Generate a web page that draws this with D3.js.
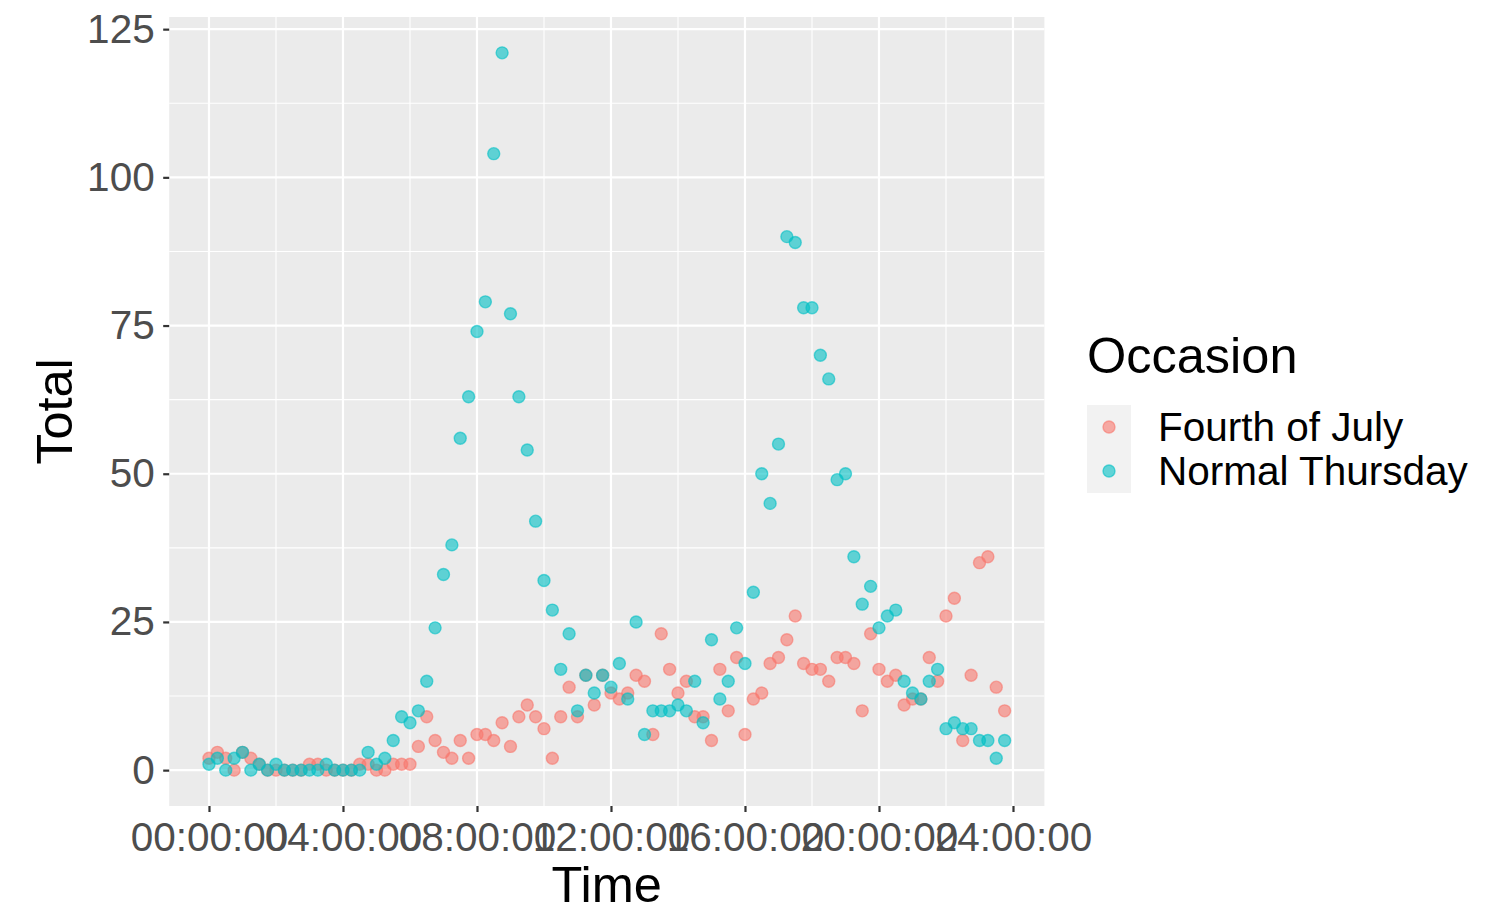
<!DOCTYPE html>
<html>
<head>
<meta charset="utf-8">
<script src="https://cdn.jsdelivr.net/npm/d3@7"></script>
<style>
  html, body { margin: 0; padding: 0; background: #ffffff; }
  svg { display: block; }
  text { font-family: "Liberation Sans", Arial, Helvetica, sans-serif; }
</style>
</head>
<body>
<script>
// ---- Data (15-minute intervals, hours since midnight) ----
const seriesNames = ["Fourth of July", "Normal Thursday"];
const seriesColors = ["#F8766D", "#00BFC4"];
const fourthOfJuly = [
  2, 3, 2, 0, 3, 2, 1, 0, 0, 0, 0, 0, 1, 1, 0, 0,
  0, 0, 1, 1, 0, 0, 1, 1, 1, 4, 9, 5, 3, 2, 5, 2,
  6, 6, 5, 8, 4, 9, 11, 9, 7, 2, 9, 14, 9, 16, 11, 16,
  13, 12, 13, 16, 15, 6, 23, 17, 13, 15, 9, 9, 5, 17, 10, 19,
  6, 12, 13, 18, 19, 22, 26, 18, 17, 17, 15, 19, 19, 18, 10, 23,
  17, 15, 16, 11, 12, 12, 19, 15, 26, 29, 5, 16, 35, 36, 14, 10
];
const normalThursday = [
  1, 2, 0, 2, 3, 0, 1, 0, 1, 0, 0, 0, 0, 0, 1, 0,
  0, 0, 0, 3, 1, 2, 5, 9, 8, 10, 15, 24, 33, 38, 56, 63,
  74, 79, 104, 121, 77, 63, 54, 42, 32, 27, 17, 23, 10, 16, 13, 16,
  14, 18, 12, 25, 6, 10, 10, 10, 11, 10, 15, 8, 22, 12, 15, 24,
  18, 30, 50, 45, 55, 90, 89, 78, 78, 70, 66, 49, 50, 36, 28, 31,
  24, 26, 27, 15, 13, 12, 15, 17, 7, 8, 7, 7, 5, 5, 2, 5
];
const xTickHours = [0, 4, 8, 12, 16, 20, 24];
const xTickLabels = ["00:00:00", "04:00:00", "08:00:00", "12:00:00", "16:00:00", "20:00:00", "24:00:00"];
const yTicks = [0, 25, 50, 75, 100, 125];
const xMinorHours = [2, 6, 10, 14, 18, 22];
const yMinor = [12.5, 37.5, 62.5, 87.5, 112.5];

const seriesValues = [fourthOfJuly, normalThursday];
const points = [];
seriesValues.forEach((vals, s) => {
  vals.forEach((v, i) => points.push({ s, t: i * 0.25, v }));
});

// ---- Layout ----
const W = 1512, H = 911;
const panel = { left: 169.2, right: 1044.4, top: 17, bottom: 806 };
const tickFont = 40.5, titleFont = 50.5;

const svg = d3.select("body").append("svg").attr("width", W).attr("height", H);

const tExt = d3.extent(points, d => d.t);
const tPad = (tExt[1] - tExt[0]) * 0.05;
const vExt = [0, d3.max(points, d => d.v)];
const vPad = (vExt[1] - vExt[0]) * 0.05;

const x = d3.scaleLinear().domain([tExt[0] - tPad, tExt[1] + tPad]).range([panel.left, panel.right]);
const y = d3.scaleLinear().domain([vExt[0] - vPad, vExt[1] + vPad]).range([panel.bottom, panel.top]);

// panel background
svg.append("rect")
  .attr("x", panel.left).attr("y", panel.top)
  .attr("width", panel.right - panel.left).attr("height", panel.bottom - panel.top)
  .attr("fill", "#EBEBEB");

const grid = svg.append("g");
// minor grid
grid.selectAll("line.ymin").data(yMinor).enter().append("line")
  .attr("x1", panel.left).attr("x2", panel.right)
  .attr("y1", d => y(d)).attr("y2", d => y(d))
  .attr("stroke", "#fff").attr("stroke-width", 1.1);
grid.selectAll("line.xmin").data(xMinorHours).enter().append("line")
  .attr("y1", panel.top).attr("y2", panel.bottom)
  .attr("x1", d => x(d)).attr("x2", d => x(d))
  .attr("stroke", "#fff").attr("stroke-width", 1.1);
// major grid
grid.selectAll("line.ymaj").data(yTicks).enter().append("line")
  .attr("x1", panel.left).attr("x2", panel.right)
  .attr("y1", d => y(d)).attr("y2", d => y(d))
  .attr("stroke", "#fff").attr("stroke-width", 2.2);
grid.selectAll("line.xmaj").data(xTickHours).enter().append("line")
  .attr("y1", panel.top).attr("y2", panel.bottom)
  .attr("x1", d => x(d)).attr("x2", d => x(d))
  .attr("stroke", "#fff").attr("stroke-width", 2.2);

// points
svg.append("g").selectAll("circle").data(points).enter().append("circle")
  .attr("cx", d => x(d.t)).attr("cy", d => y(d.v)).attr("r", 6)
  .attr("fill", d => seriesColors[d.s]).attr("fill-opacity", 0.6)
  .attr("stroke", d => seriesColors[d.s]).attr("stroke-opacity", 0.6)
  .attr("stroke-width", 1.4);

// axes
const xAxis = d3.axisBottom(x).tickValues(xTickHours)
  .tickFormat((d, i) => xTickLabels[i]).tickSize(6).tickPadding(10);
const gx = svg.append("g").attr("transform", `translate(0,${panel.bottom})`).call(xAxis);
gx.select(".domain").remove();
gx.selectAll(".tick line").attr("stroke", "#333333").attr("stroke-width", 2.2);
gx.selectAll(".tick text").attr("fill", "#4D4D4D").attr("font-size", tickFont)
  .attr("font-family", "Liberation Sans, Arial, sans-serif");

const yAxis = d3.axisLeft(y).tickValues(yTicks).tickSize(6).tickPadding(8.5);
const gy = svg.append("g").attr("transform", `translate(${panel.left},0)`).call(yAxis);
gy.select(".domain").remove();
gy.selectAll(".tick line").attr("stroke", "#333333").attr("stroke-width", 2.2);
gy.selectAll(".tick text").attr("fill", "#4D4D4D").attr("font-size", tickFont)
  .attr("font-family", "Liberation Sans, Arial, sans-serif");

// axis titles
svg.append("text").attr("x", (panel.left + panel.right) / 2).attr("y", 902)
  .attr("text-anchor", "middle").attr("font-size", titleFont).attr("fill", "#000").text("Time");
svg.append("text").attr("transform", `translate(72,${(panel.top + panel.bottom) / 2}) rotate(-90)`)
  .attr("text-anchor", "middle").attr("font-size", titleFont).attr("fill", "#000").text("Total");

// legend
const lg = svg.append("g");
lg.append("text").attr("x", 1087).attr("y", 373).attr("font-size", titleFont).attr("fill", "#000").text("Occasion");
lg.append("rect").attr("x", 1087).attr("y", 405).attr("width", 44).attr("height", 88).attr("fill", "#F2F2F2");
seriesNames.forEach((name, i) => {
  const cy = 427 + i * 44;
  lg.append("circle").attr("cx", 1109).attr("cy", cy).attr("r", 6)
    .attr("fill", seriesColors[i]).attr("fill-opacity", 0.6)
    .attr("stroke", seriesColors[i]).attr("stroke-opacity", 0.6).attr("stroke-width", 1.4);
  lg.append("text").attr("x", 1158).attr("y", cy + 14).attr("font-size", tickFont)
    .attr("fill", "#000").text(name);
});
</script>
</body>
</html>
